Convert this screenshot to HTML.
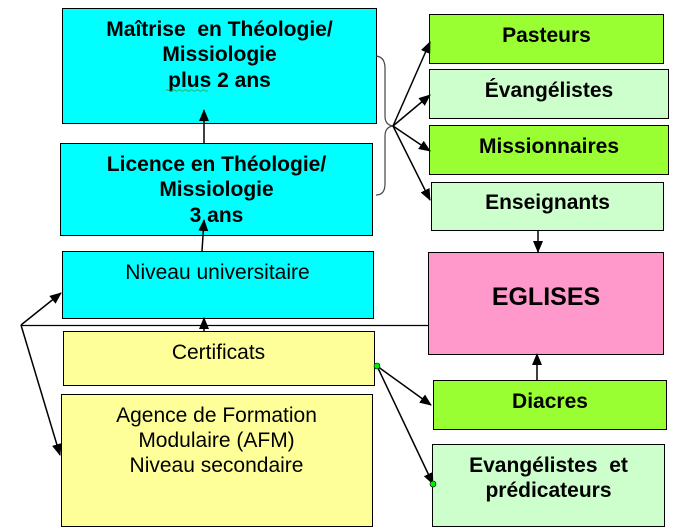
<!DOCTYPE html>
<html><head><meta charset="utf-8">
<style>
html,body{margin:0;padding:0;background:#fff;width:673px;height:532px;overflow:hidden}
svg{display:block}
text{font-family:"Liberation Sans",Arial,sans-serif;fill:#000}
.b{font-weight:bold;font-size:21px}
.r{font-size:21px}
</style></head><body>
<svg width="673" height="532" viewBox="0 0 673 532" xmlns="http://www.w3.org/2000/svg">
<defs>
<marker id="ah" markerWidth="12" markerHeight="10" refX="11" refY="5" orient="auto" markerUnits="userSpaceOnUse">
<path d="M0,0 L12,5 L0,10 z" fill="#000"/>
</marker>
</defs>
<!-- left boxes -->
<rect x="62.5" y="8.5" width="314" height="115" fill="#00FFFF" stroke="#000"/>
<rect x="60.5" y="143.5" width="312" height="92" fill="#00FFFF" stroke="#000"/>
<rect x="62.5" y="251.5" width="311" height="67" fill="#00FFFF" stroke="#000"/>
<rect x="63.5" y="331.5" width="311" height="54" fill="#FFFF99" stroke="#000"/>
<rect x="61.5" y="394.5" width="311" height="132" fill="#FFFF99" stroke="#000"/>
<!-- right boxes -->
<rect x="429.5" y="14.5" width="234" height="49" fill="#99FF33" stroke="#000"/>
<rect x="429.5" y="69.5" width="239" height="49" fill="#CCFFCC" stroke="#000"/>
<rect x="429.5" y="125.5" width="239" height="49" fill="#99FF33" stroke="#000"/>
<rect x="431.5" y="182.5" width="232" height="48" fill="#CCFFCC" stroke="#000"/>
<rect x="428.5" y="252.5" width="235" height="102" fill="#FF99CC" stroke="#000"/>
<rect x="433.5" y="380.5" width="233" height="49" fill="#99FF33" stroke="#000"/>
<rect x="432.5" y="444.5" width="232" height="82" fill="#CCFFCC" stroke="#000"/>

<!-- horizontal line -->
<line x1="21" y1="325.5" x2="428" y2="325.5" stroke="#000" stroke-width="1.2"/>
<!-- left arrows -->
<line x1="21" y1="325" x2="61" y2="293" stroke="#000" stroke-width="1.5" marker-end="url(#ah)"/>
<line x1="21" y1="325" x2="60" y2="455" stroke="#000" stroke-width="1.5" marker-end="url(#ah)"/>
<!-- vertical arrows -->
<line x1="204" y1="331" x2="204" y2="318" stroke="#000" stroke-width="1.5" marker-end="url(#ah)"/>
<line x1="202" y1="251" x2="204" y2="220" stroke="#000" stroke-width="1.5" marker-end="url(#ah)"/>
<line x1="204" y1="143" x2="204" y2="110" stroke="#000" stroke-width="1.5" marker-end="url(#ah)"/>
<line x1="538" y1="230" x2="538" y2="252" stroke="#000" stroke-width="1.5" marker-end="url(#ah)"/>
<line x1="537" y1="380" x2="537" y2="354" stroke="#000" stroke-width="1.5" marker-end="url(#ah)"/>
<!-- brace -->
<path d="M376,56 Q385,57 385,68 L385,116 Q385,125 393,126 Q385,127 385,136 L385,184 Q385,195 376,195" fill="none" stroke="#444" stroke-width="1.2"/>
<!-- fan arrows -->
<line x1="393" y1="126" x2="430" y2="42" stroke="#000" stroke-width="1.5" marker-end="url(#ah)"/>
<line x1="393" y1="126" x2="430" y2="95" stroke="#000" stroke-width="1.5" marker-end="url(#ah)"/>
<line x1="393" y1="126" x2="430" y2="151" stroke="#000" stroke-width="1.5" marker-end="url(#ah)"/>
<line x1="393" y1="126" x2="430" y2="200" stroke="#000" stroke-width="1.5" marker-end="url(#ah)"/>
<!-- lower right arrows -->
<line x1="377" y1="366" x2="431" y2="405" stroke="#000" stroke-width="1.5" marker-end="url(#ah)"/>
<line x1="377" y1="366" x2="433" y2="484" stroke="#000" stroke-width="1.5" marker-end="url(#ah)"/>
<circle cx="377" cy="366" r="3" fill="#00EE00" stroke="#000" stroke-width="0.6"/>
<circle cx="433" cy="484" r="3" fill="#00EE00" stroke="#000" stroke-width="0.6"/>

<!-- texts -->
<text class="b" x="219.5" y="36" text-anchor="middle" xml:space="preserve">Maîtrise  en Théologie/</text>
<text class="b" x="219.5" y="61" text-anchor="middle">Missiologie</text>
<text class="b" x="219.5" y="87" text-anchor="middle">plus 2 ans</text>
<path d="M166,90.5 q1.5,-1.5 3,0 t3,0 t3,0 t3,0 t3,0 t3,0 t3,0 t3,0 t3,0 t3,0 t3,0 t3,0 t3,0 t3,0" fill="none" stroke="#2c9a2c" stroke-width="0.8"/>
<text class="b" x="216.5" y="171" text-anchor="middle">Licence en Théologie/</text>
<text class="b" x="216.5" y="196" text-anchor="middle">Missiologie</text>
<text class="b" x="216.5" y="222" text-anchor="middle">3 ans</text>
<text class="r" x="217.5" y="279" text-anchor="middle">Niveau universitaire</text>
<text class="r" x="218.5" y="359" text-anchor="middle">Certificats</text>
<text class="r" x="216.5" y="422" text-anchor="middle">Agence de Formation</text>
<text class="r" x="216.5" y="447" text-anchor="middle">Modulaire (AFM)</text>
<text class="r" x="216.5" y="472" text-anchor="middle">Niveau secondaire</text>

<text class="b" x="546.5" y="42" text-anchor="middle">Pasteurs</text>
<text class="b" x="549" y="97" text-anchor="middle">Évangélistes</text>
<text class="b" x="549" y="153" text-anchor="middle">Missionnaires</text>
<text class="b" x="547.5" y="209" text-anchor="middle">Enseignants</text>
<text x="546" y="305" text-anchor="middle" style="font-weight:bold;font-size:25px">EGLISES</text>
<text class="b" x="550" y="408" text-anchor="middle">Diacres</text>
<text class="b" x="548.5" y="472" text-anchor="middle" xml:space="preserve">Evangélistes  et</text>
<text class="b" x="548.5" y="497" text-anchor="middle">prédicateurs</text>
</svg>
</body></html>
